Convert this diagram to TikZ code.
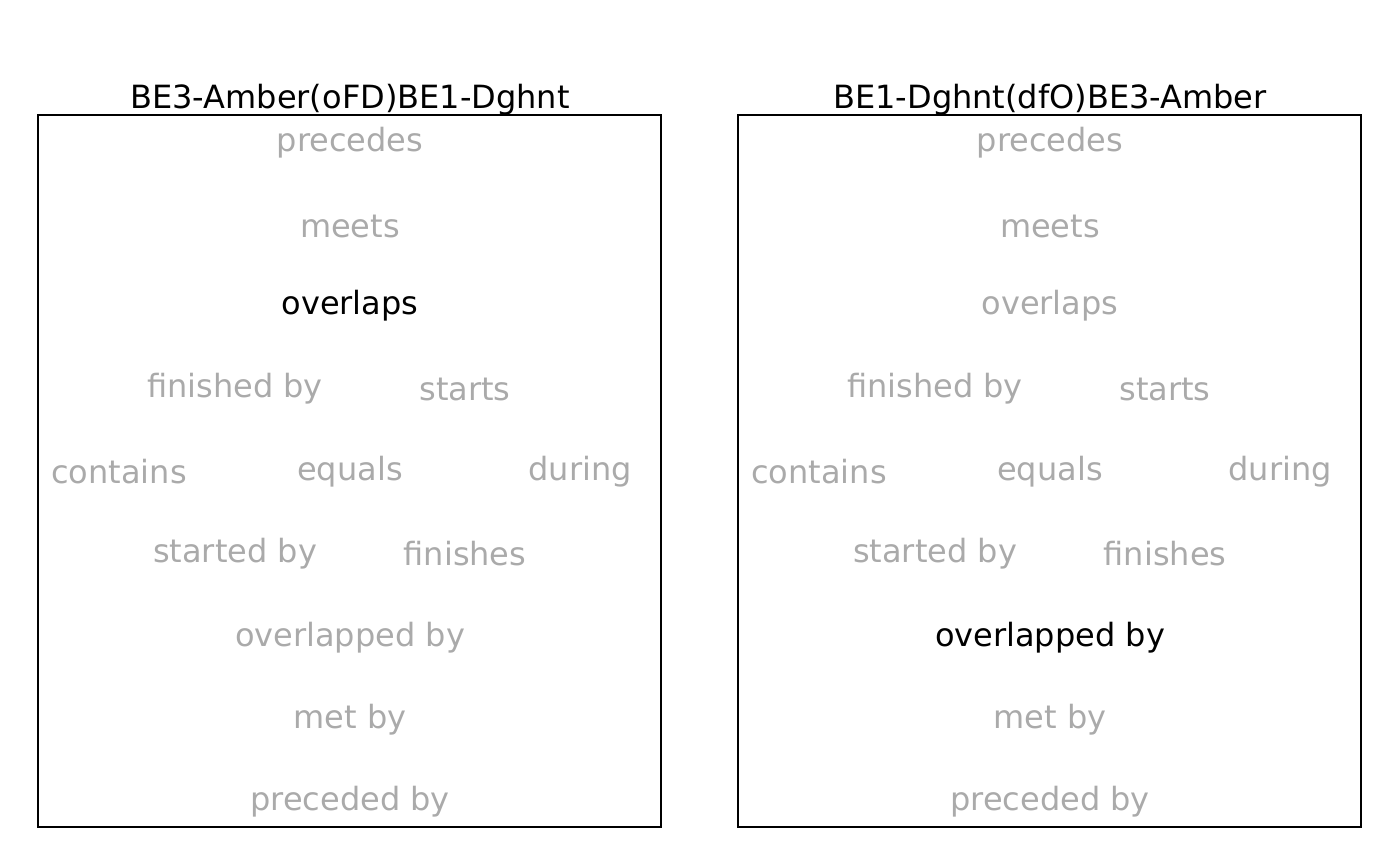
\documentclass[tikz,border=0pt]{standalone}
\usepackage{fontspec}
\setmainfont{DejaVu Sans}
\definecolor{lblgray}{RGB}{170,170,170}
\tikzset{
  lbl/.style={anchor=base, inner sep=0pt, font=\fontsize{16}{18}\selectfont, text=lblgray},
  hilite/.style={lbl, text=black},
  ttl/.style={anchor=base, inner sep=0pt, font=\fontsize{16}{18}\selectfont, text=black},
  panel/.style={draw=black, line width=0.75pt}
}
\begin{document}
\begin{tikzpicture}[x=0.5pt,y=-0.5pt]
\useasboundingbox (0,0) rectangle (1400,866);
\foreach \dx/\p/\ov/\ob/\ti in {0/L/hilite/lbl/{BE3-Amber(oFD)BE1-Dghnt},700/R/lbl/hilite/{BE1-Dghnt(dfO)BE3-Amber}}{
  \draw[panel] (38+\dx,115) rectangle (661+\dx,827);
  \node[ttl] (title\p) at (350+\dx,108.5) {\ti};
  \node[lbl] (prec\p) at (350+\dx,151.5) {precedes};
  \node[lbl] (meets\p) at (350+\dx,237) {meets};
  \node[\ov] (ovl\p) at (350+\dx,314.5) {overlaps};
  \node[lbl] (finby\p) at (235+\dx,397.5) {finished by};
  \node[lbl] (starts\p) at (465+\dx,400.5) {starts};
  \node[lbl] (cont\p) at (119+\dx,483) {contains};
  \node[lbl] (eq\p) at (350+\dx,480.5) {equals};
  \node[lbl] (dur\p) at (580+\dx,480.5) {during};
  \node[lbl] (stby\p) at (235+\dx,562.5) {started by};
  \node[lbl] (fin\p) at (465+\dx,565.5) {finishes};
  \node[\ob] (ovby\p) at (350+\dx,646) {overlapped by};
  \node[lbl] (metby\p) at (350+\dx,728) {met by};
  \node[lbl] (precby\p) at (350+\dx,810.5) {preceded by};
}
\end{tikzpicture}
\end{document}
